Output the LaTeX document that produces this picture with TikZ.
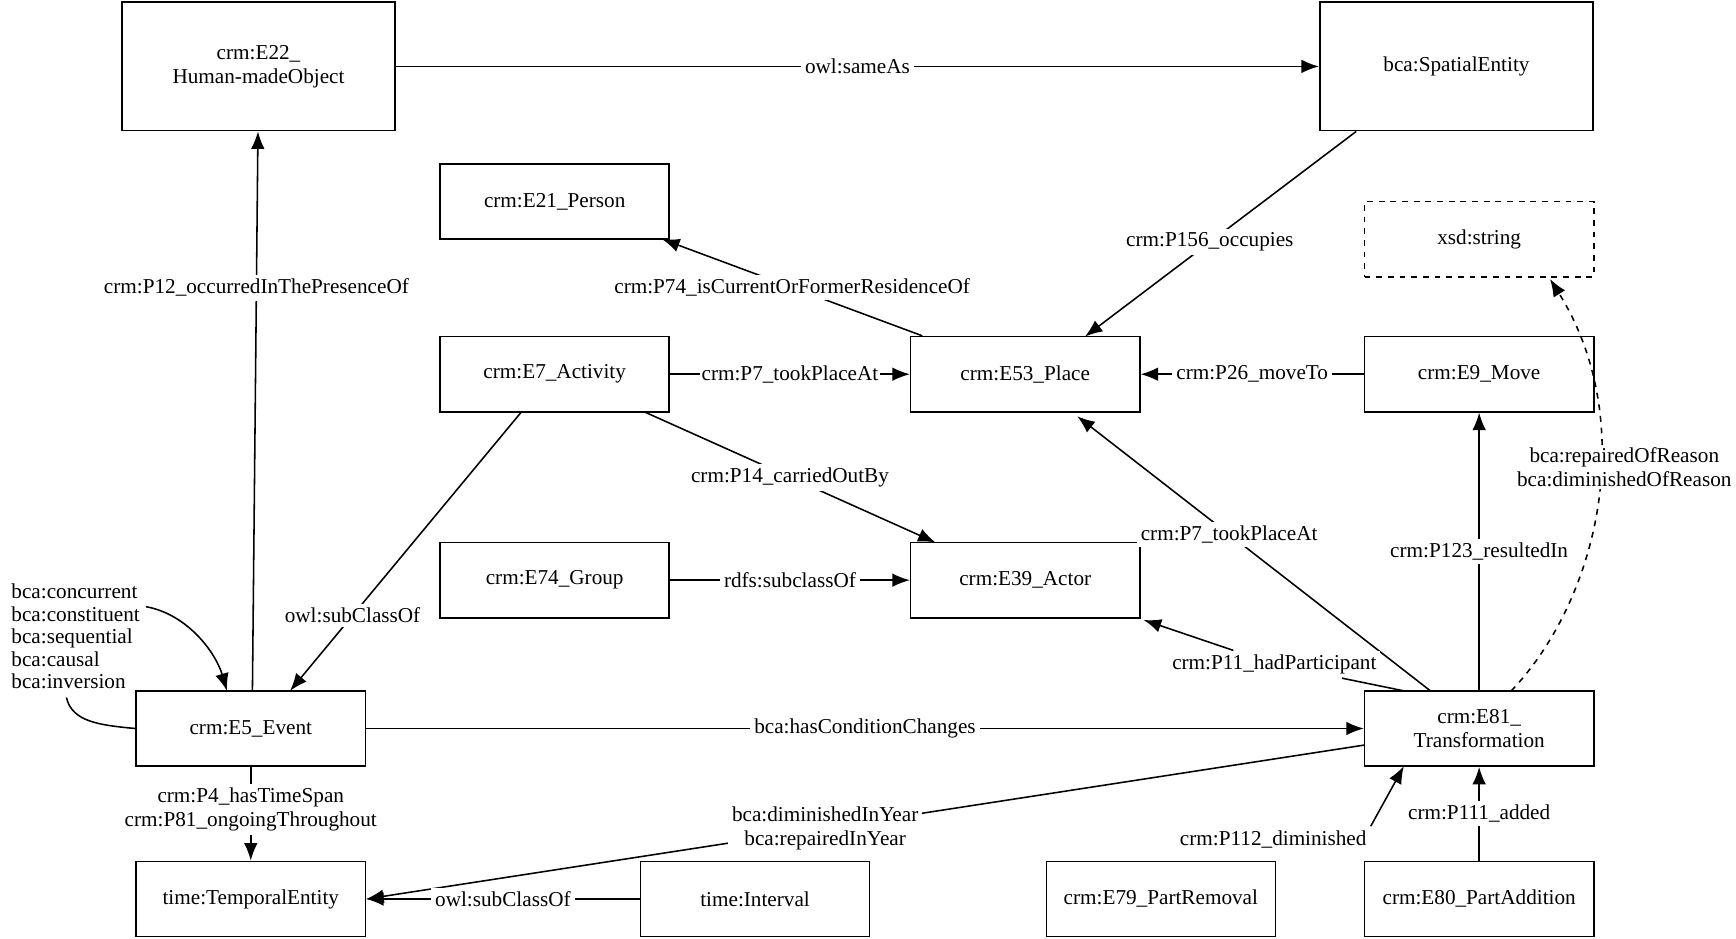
\documentclass[tikz,border=0pt]{standalone}
\usepackage{fontspec}
\setmainfont{Liberation Serif}
\usetikzlibrary{arrows.meta}
\begin{document}
\begin{tikzpicture}[x=0.02cm,y=-0.02cm,font=\fontsize{10.9}{12.3}\selectfont,
 box/.style={draw,thick,minimum width=4.14cm,minimum height=1.36cm,align=center,inner sep=1pt},
 bigbox/.style={box,minimum width=4.94cm,minimum height=2.32cm},
 lbl/.style={fill=white,inner sep=2pt,align=center},
 arr/.style={-{Latex[length=9pt,width=7pt]},thick},
 ln/.style={thick}]
\useasboundingbox (0,0) rectangle (1568,848);
\node[bigbox] (e22) at (233.5,60) {crm:E22\_\\Human-madeObject};
\node[bigbox] (sp) at (1315.5,60) {bca:SpatialEntity};
\node[box] (e21) at (501,182) {crm:E21\_Person};
\node[box,dashed] (xsd) at (1336,216) {xsd:string};
\node[box] (e7) at (501,338) {crm:E7\_Activity};
\node[box] (e53) at (926,338) {crm:E53\_Place};
\node[box] (e9) at (1336,338) {crm:E9\_Move};
\node[box] (e74) at (501,524) {crm:E74\_Group};
\node[box] (e39) at (926,524) {crm:E39\_Actor};
\node[box] (e5) at (226.5,658) {crm:E5\_Event};
\node[box] (e81) at (1336,658) {crm:E81\_\\Transformation};
\node[box] (te) at (226.5,812) {time:TemporalEntity};
\node[box] (iv) at (682,812) {time:Interval};
\node[box] (e79) at (1048.5,812) {crm:E79\_PartRemoval};
\node[box] (e80) at (1336,812) {crm:E80\_PartAddition};

\draw[arr] (e22) -- node[lbl]{owl:sameAs} (sp);
\draw[arr] (e5.north -| 228,0) -- node[lbl,pos=0.72]{crm:P12\_occurredInThePresenceOf} (e22.south -| 233,0);
\draw[arr] (sp.south -| 1225,0) -- node[lbl,pos=0.54]{crm:P156\_occupies} (980,304);
\draw[arr] (e53.north -| 833,0) -- node[lbl,pos=0.5]{crm:P74\_isCurrentOrFormerResidenceOf} (598,216);
\draw[arr] (e7) -- node[lbl,inner sep=1pt]{crm:P7\_tookPlaceAt} (e53);
\draw[arr] (e9) -- node[lbl]{crm:P26\_moveTo} (e53);
\draw[arr] (582,372) -- node[lbl]{crm:P14\_carriedOutBy} (845,490);
\draw[arr] (471,372) -- node[lbl,pos=0.73]{owl:subClassOf} (262,624);
\draw[arr] (e74) -- node[lbl]{rdfs:subclassOf} (e39);
\draw[arr] (1292,624) -- node[lbl,pos=0.57]{crm:P7\_tookPlaceAt} (973,376);
\node[lbl] (l11) at (1151,600) {crm:P11\_hadParticipant};
\draw[ln] (1268,624) -- (l11);
\draw[arr] (l11) -- (1033,560);
\draw[arr] (1336,624) -- node[lbl]{crm:P123\_resultedIn} (e9);
\draw[arr,dashed] (1365,624) .. controls (1445,540) and (1480,380) .. (1400,252);
\node[lbl,inner sep=1pt,anchor=east] (lrr) at (1566,422) {bca:repairedOfReason\\bca:diminishedOfReason};
\node[align=left,anchor=west,inner sep=0pt,font=\fontsize{10.9}{11.6}\selectfont] (loop) at (10,575) {bca:concurrent\\bca:constituent\\bca:sequential\\bca:causal\\bca:inversion};
\draw[ln] (e5.west) .. controls (90,655) and (65,652) .. (60,630);
\draw[arr] (132,548) .. controls (170,555) and (195,590) .. (205,624);
\draw[arr] (e5) -- node[lbl]{bca:hasConditionChanges} (e81);
\draw[arr] (e5.south) -- node[lbl,pos=0.45]{crm:P4\_hasTimeSpan\\crm:P81\_ongoingThroughout} (te.north);
\draw[arr] (1232,673) -- node[lbl,pos=0.54]{bca:diminishedInYear\\bca:repairedInYear} (te.east);
\draw[arr] (iv) -- node[lbl]{owl:subClassOf} (te);
\node[lbl] (l112) at (1150,758) {crm:P112\_diminished};
\draw[arr] (l112.north east) -- (1268,692);
\draw[arr] (e80) -- node[lbl]{crm:P111\_added} (e81);
\end{tikzpicture}
\end{document}
